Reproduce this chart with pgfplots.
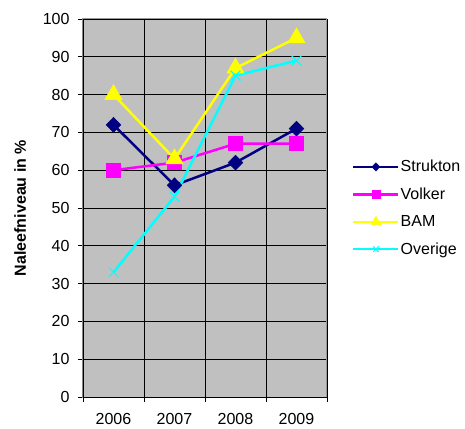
\documentclass[border=0pt]{standalone}
\usepackage{pgfplots}
\pgfplotsset{compat=1.18}
\usepackage{fontspec}
\setmainfont{Liberation Sans}
\definecolor{bg}{HTML}{C0C0C0}
\definecolor{cStr}{HTML}{000080}
\definecolor{cVol}{HTML}{FF00FF}
\definecolor{cBAM}{HTML}{FFFF00}
\definecolor{cOve}{HTML}{00FFFF}
\begin{document}
\begin{tikzpicture}
\path[use as bounding box] (-83pt,-31pt) rectangle (382pt,397pt);
\begin{axis}[
  at={(0pt,0pt)}, anchor=south west,
  scale only axis, width=244pt, height=378pt,
  xmin=-0.5, xmax=3.5, ymin=0, ymax=100,
  xtick={0,1,2,3}, xticklabels={2006,2007,2008,2009},
  minor xtick={-0.5,0.5,1.5,2.5,3.5},
  ytick={0,10,...,100},
  major x tick style={draw=none},
  tick align=outside, tick pos=left,
  major tick length=5pt, minor tick length=5pt,
  tick style={black, line width=0.8pt},
  ymajorgrids, xminorgrids,
  major grid style={black, line width=0.9pt},
  minor grid style={black, line width=0.9pt},
  axis line style={draw=gray!80, line width=1pt},
  axis background/.style={fill=bg},
  ticklabel style={font=\fontsize{16}{19}\selectfont},
  /pgf/number format/assume math mode=true,
  xticklabel style={yshift=-8pt},
  yticklabel style={xshift=-5pt},
  ylabel={Naleefniveau in \%},
  ylabel style={font=\bfseries\fontsize{16}{19}\selectfont, at={(axis description cs:-0.258,0.5)}, anchor=center},
  legend style={draw=none, fill=none, at={(1.09,0.5)}, anchor=west,
    font=\fontsize{16}{19}\selectfont, row sep=12.5pt,
    nodes={inner sep=1pt}},
  legend cell align=left,
  legend image code/.code={\draw[mark repeat=2,mark phase=2,every mark/.append style={scale=0.55}] plot coordinates {(0pt,0pt) (22.5pt,0pt) (45pt,0pt)};},
  every axis plot/.append style={line width=2.5pt},
]
\addplot[color=cStr, mark=diamond*, mark size=7.5pt, mark options={xscale=1.3, line width=0.5pt}] coordinates {(0,72) (1,56) (2,62) (3,71)};
\addlegendentry{Strukton}
\addplot[color=cVol, mark=square*, mark size=7pt, mark options={line width=0.5pt}] coordinates {(0,60) (1,62) (2,67) (3,67)};
\addlegendentry{Volker}
\addplot[color=cBAM, mark=triangle*, mark size=10pt, mark options={line width=0.5pt}] coordinates {(0,80) (1,63) (2,87) (3,95)};
\addlegendentry{BAM}
\addplot[color=cOve, mark=x, mark size=7pt, mark options={line width=1pt}] coordinates {(0,33) (1,53) (2,85) (3,89)};
\addlegendentry{Overige}
\draw[black, line width=1pt] (rel axis cs:0,1) -- (rel axis cs:0,0) -- (rel axis cs:1,0);
\end{axis}
\end{tikzpicture}
\end{document}
